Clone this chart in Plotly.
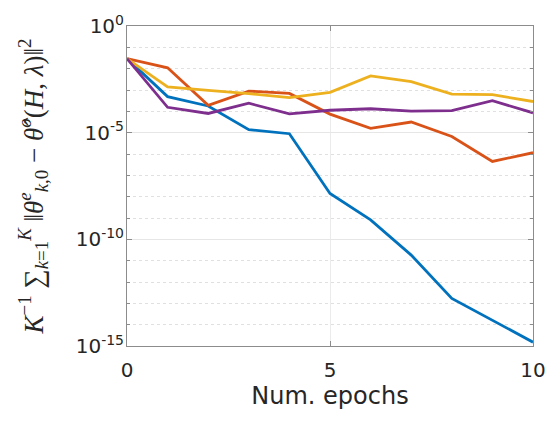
import plotly.graph_objects as go

# Per-epoch error, log10 of the averaged squared distance
epochs = [0, 1, 2, 3, 4, 5, 6, 7, 8, 9, 10]
log_err_blue = [-1.53, -3.31, -3.75, -4.86, -5.05, -7.85, -9.09, -10.74, -12.77, -13.78, -14.82]
log_err_orange = [-1.53, -1.96, -3.72, -3.05, -3.16, -4.13, -4.80, -4.50, -5.18, -6.35, -5.94]
log_err_yellow = [-1.53, -2.86, -3.02, -3.17, -3.36, -3.11, -2.34, -2.61, -3.19, -3.22, -3.54]
log_err_purple = [-1.53, -3.81, -4.10, -3.62, -4.12, -3.95, -3.88, -3.99, -3.97, -3.50, -4.07]

series = [
    (log_err_blue, "#0072BD"),
    (log_err_orange, "#D95319"),
    (log_err_yellow, "#EDB120"),
    (log_err_purple, "#7E2F8E"),
]

major_ticks = [1e0, 1e-5, 1e-10, 1e-15]
major_text = ["10<sup>0</sup>", "10<sup>-5</sup>", "10<sup>-10</sup>", "10<sup>-15</sup>"]
decade_ticks = [10.0 ** (-k) for k in range(0, 16)]

fig = go.Figure()
for vals, color in series:
    fig.add_trace(go.Scatter(
        x=epochs, y=[10.0 ** v for v in vals], mode="lines",
        line=dict(color=color, width=2.8), showlegend=False,
    ))

axis_color = "#8c8c8c"
sans = "DejaVu Sans, Arial, sans-serif"
tick_font = dict(family=sans, size=20, color="#262626")

fig.update_xaxes(
    range=[0, 10], tickvals=[0, 5, 10], ticktext=["0", "5", "10"],
    showline=True, linecolor=axis_color, linewidth=1, mirror="allticks",
    ticks="inside", ticklen=5, tickcolor=axis_color,
    showgrid=True, gridcolor="#ebebeb", gridwidth=1,
    zeroline=False, tickfont=tick_font, ticklabelstandoff=6,
    title=dict(text="Num. epochs", font=dict(family=sans, size=24, color="#262626"),
               standoff=0),
)

fig.update_yaxes(
    type="log", range=[-15, 0], tickmode="array",
    tickvals=major_ticks, ticktext=major_text,
    showline=True, linecolor=axis_color, linewidth=1, mirror="allticks",
    ticks="inside", ticklen=5, tickcolor=axis_color,
    showgrid=True, gridcolor="#e6e6e6", gridwidth=1,
    zeroline=False, tickfont=tick_font, ticklabelstandoff=-2,
    minor=dict(tickmode="array", tickvals=decade_ticks, ticks="inside", ticklen=3,
               tickcolor=axis_color, showgrid=True, gridcolor="#e0e0e0",
               griddash="dot", gridwidth=1),
    title=dict(
        text="<i>K</i><sup>−1</sup> ∑<sub><i>k</i>=1</sub><sup><i>K</i></sup> "
             "‖<i>θ</i><sup><i>e</i></sup><sub><i>k</i>,0</sub> − "
             "<i>θ̂</i><sup><i>o</i></sup>(<i>H</i>, <i>λ</i>)‖<sup>2</sup>",
        font=dict(family="Liberation Serif, DejaVu Serif, serif", size=27, color="#262626"),
        standoff=24,
    ),
)

fig.update_layout(
    width=559, height=428,
    margin=dict(l=127, r=26, t=23, b=82),
    paper_bgcolor="white", plot_bgcolor="white",
)

fig.write_html("out.html")
